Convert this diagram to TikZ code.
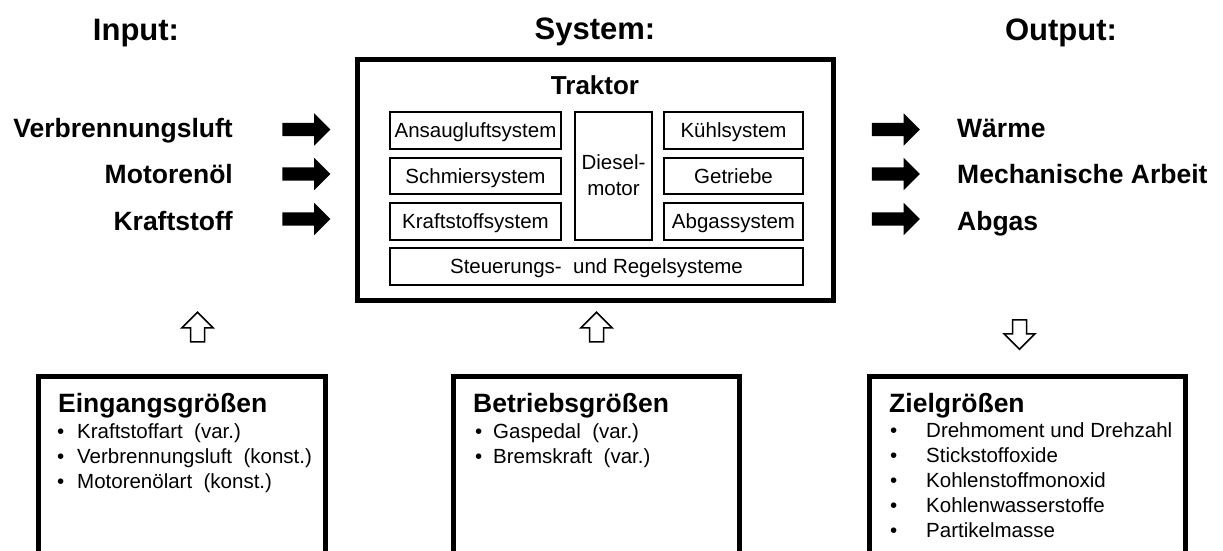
\documentclass[tikz,border=0pt]{standalone}
\usepackage{fontspec}
\setmainfont{Liberation Sans}
\usetikzlibrary{shapes.arrows}

\begin{document}
\begin{tikzpicture}[x=1pt,y=-1pt,
  heading/.style={anchor=base, inner sep=0, font=\fontsize{31}{36}\selectfont\bfseries},
  flowlabel/.style={inner sep=0, font=\fontsize{26.5}{30}\selectfont\bfseries},
  boxtitle/.style={anchor=base west, inner sep=0, font=\fontsize{26.5}{30}\selectfont\bfseries},
  frame/.style={draw, line width=5pt, inner sep=0},
  part/.style={draw, line width=2pt, inner sep=0, font=\fontsize{20.5}{24}\selectfont,
    text height=14.7pt, text depth=0pt},
  plain/.style={inner sep=0, font=\fontsize{20.5}{24}\selectfont},
  itemtext/.style={anchor=base west, inner sep=0, font=\fontsize{20.5}{24}\selectfont},
  bulletmark/.style={anchor=base west, inner sep=0, font=\fontsize{20.5}{24}\selectfont},
  blockarrow/.style={single arrow, fill=black, draw=none, inner xsep=0, inner ysep=6.5pt,
    minimum height=48pt, minimum width=32pt, single arrow head extend=9.5pt},
  hollowarrow/.style={single arrow, fill=white, draw=black, line width=1.5pt,
    inner xsep=6.25pt, inner ysep=0pt, minimum height=29.5pt, minimum width=29.5pt,
    single arrow head extend=8.5pt}
]
\useasboundingbox (0,0) rectangle (1223,551);
\clip (0,0) rectangle (1223,551);

% column headings
\node[heading] (hin)  at (136,41)  {Input:};
\node[heading] (hsys) at (595,40)  {System:};
\node[heading] (hout) at (1061,41) {Output:};

% system box with its subsystems
\node[frame, minimum width=476pt, minimum height=241pt] (sys) at (595.5,180) {};
\node[anchor=base, inner sep=0, font=\fontsize{26}{30}\selectfont\bfseries] (trak) at (595,95) {Traktor};

\node[part, minimum width=171pt, minimum height=37pt] (ans) at (475.5,130.5) {Ansaugluftsystem};
\node[part, minimum width=171pt, minimum height=36pt] (sch) at (475.5,176)   {Schmiersystem};
\node[part, minimum width=171pt, minimum height=37pt] (kra) at (475.5,221.5) {Kraftstoffsystem};
\node[part, minimum width=77pt,  minimum height=128pt] (die) at (613.5,176) {};
\node[plain, anchor=base] (die1) at (613.5,169.5) {Diesel-};
\node[plain, anchor=base] (die2) at (613.5,195)   {motor};
\node[part, minimum width=139pt, minimum height=37pt] (kue) at (733.5,130.5) {Kühlsystem};
\node[part, minimum width=139pt, minimum height=36pt] (get) at (733.5,176)   {Getriebe};
\node[part, minimum width=139pt, minimum height=37pt] (abg) at (733.5,221.5) {Abgassystem};
\node[part, minimum width=413pt, minimum height=37pt] (ste) at (596.5,266.5) {Steuerungs-~ und Regelsysteme};

% inputs
\node[flowlabel, anchor=base east] (lin1) at (233,137)   {Verbrennungsluft};
\node[flowlabel, anchor=base east] (lin2) at (233,183.3) {Motorenöl};
\node[flowlabel, anchor=base east] (lin3) at (233,230)   {Kraftstoff};
\node[blockarrow] (ain1) at (303,129.5) {};
\node[blockarrow] (ain2) at (303,174)   {};
\node[blockarrow] (ain3) at (303,219)   {};

% outputs
\node[blockarrow] (aout1) at (892.5,129.5) {};
\node[blockarrow] (aout2) at (892.5,174)   {};
\node[blockarrow] (aout3) at (892.5,219)   {};
\node[flowlabel, anchor=base west] (lout1) at (957,137)   {Wärme};
\node[flowlabel, anchor=base west] (lout2) at (957,183.3) {Mechanische Arbeit};
\node[flowlabel, anchor=base west] (lout3) at (957,230)   {Abgas};

% hollow arrows between the system and the parameter boxes
\node[hollowarrow, shape border rotate=90]  (up1) at (197.5,330.5) {};
\node[hollowarrow, shape border rotate=90]  (up2) at (596.5,330.5) {};
\node[hollowarrow, shape border rotate=270] (dn3) at (1019.5,331)  {};

% parameter boxes
\node[frame, minimum width=287pt, minimum height=223.5pt] (ein) at (182,488.25) {};
\node[frame, minimum width=286pt, minimum height=223.5pt] (bet) at (596.5,488.25) {};
\node[frame, minimum width=316pt, minimum height=223.5pt] (ziel) at (1027.5,488.25) {};

\node[boxtitle] (eint) at (58,412)  {Eingangsgrößen};
\node[boxtitle] (bett) at (473,412) {Betriebsgrößen};
\node[boxtitle] (zielt) at (889,412) {Zielgrößen};

\foreach \t [count=\i] in {Kraftstoffart~ (var.), Verbrennungsluft~ (konst.), Motorenölart~ (konst.)} {
  \node[bulletmark] (einb\i) at (57,413+25*\i) {•};
  \node[itemtext]   (eini\i) at (77,413+25*\i)   {\t};
}
\foreach \t [count=\i] in {Gaspedal~ (var.), Bremskraft~ (var.)} {
  \node[bulletmark] (betb\i) at (475,413+25*\i) {•};
  \node[itemtext]   (beti\i) at (493,413+25*\i)   {\t};
}
\foreach \t [count=\i] in {Drehmoment und Drehzahl, Stickstoffoxide, Kohlenstoffmonoxid, Kohlenwasserstoffe, Partikelmasse} {
  \node[bulletmark] (zielb\i) at (890,412+25*\i) {•};
  \node[itemtext]   (zieli\i) at (926,412+25*\i)   {\t};
}
\end{tikzpicture}
\end{document}
